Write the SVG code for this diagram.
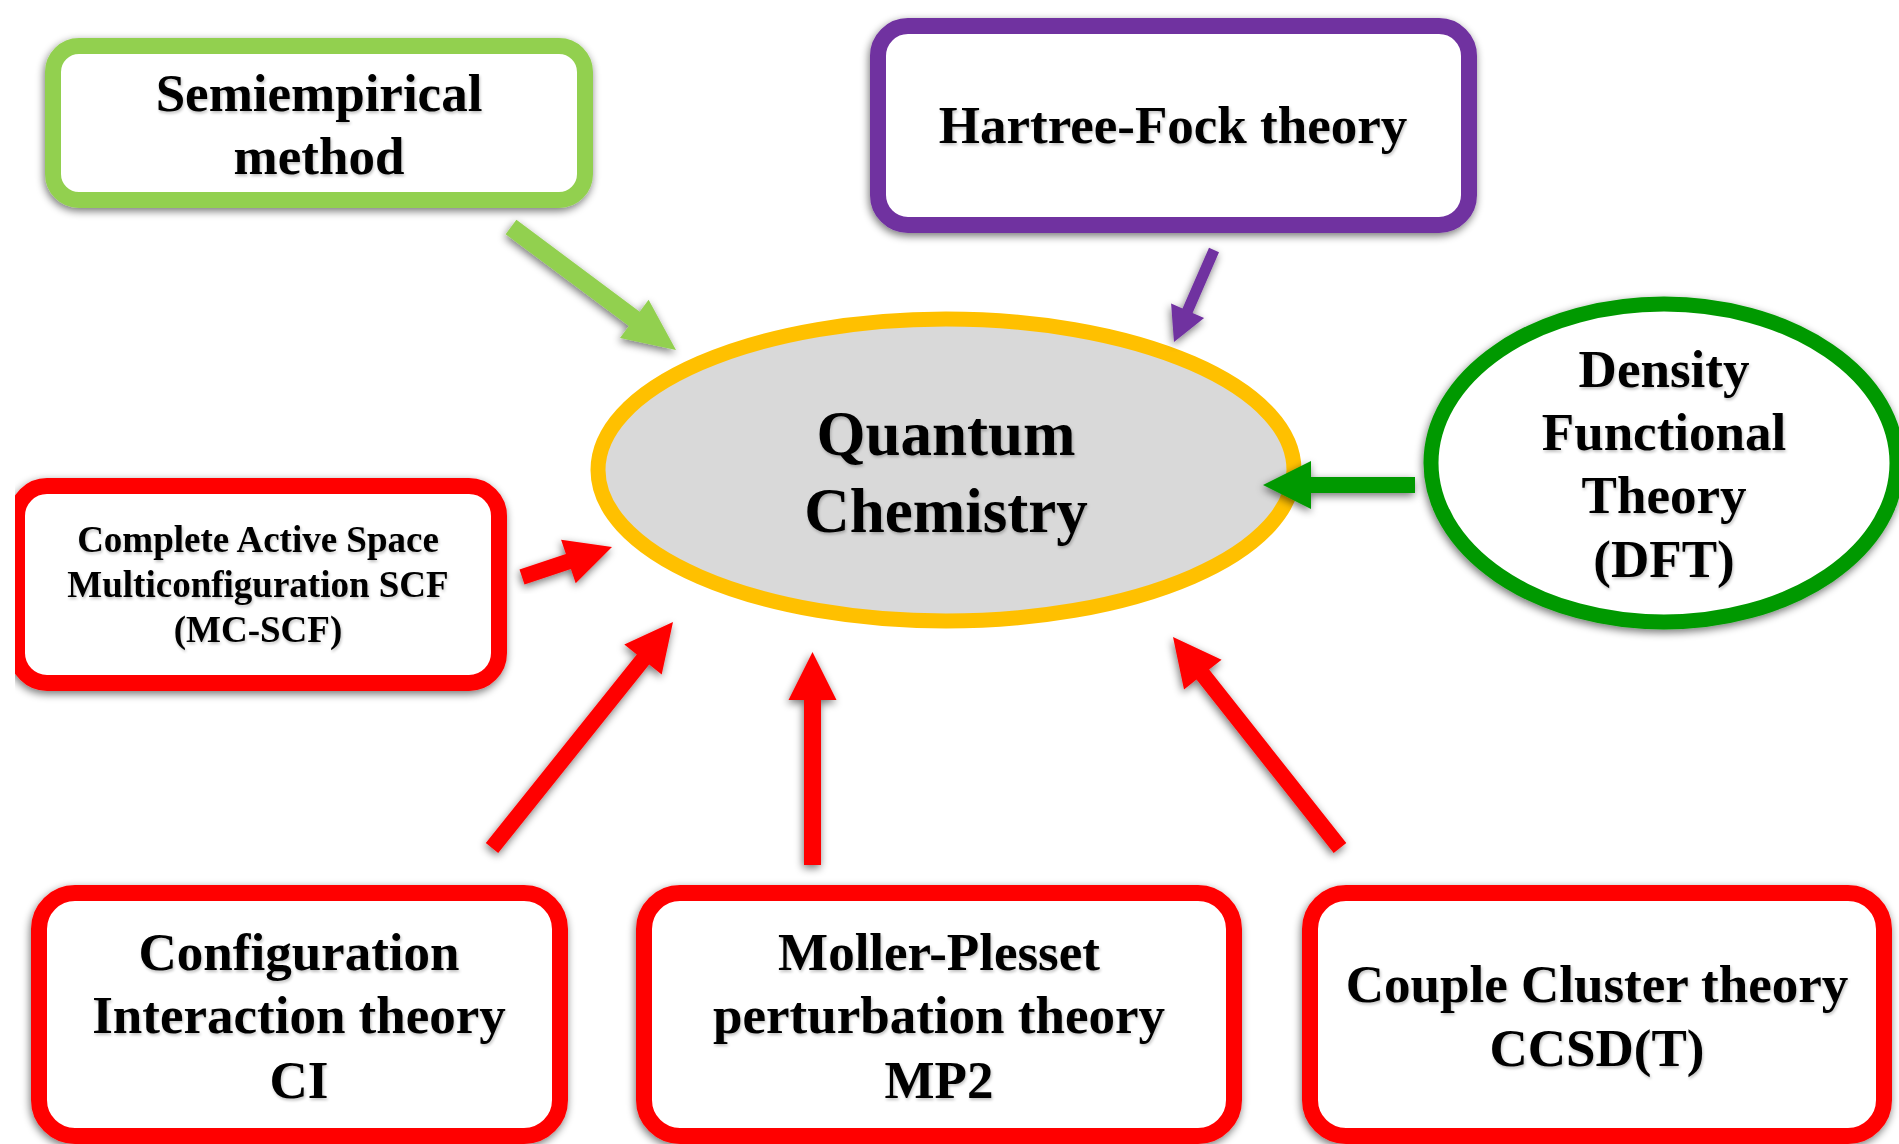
<svg xmlns="http://www.w3.org/2000/svg" width="1899" height="1144" viewBox="0 0 1899 1144">
  <defs>
    <filter id="sh" x="-20%" y="-20%" width="140%" height="140%">
      <feGaussianBlur in="SourceAlpha" stdDeviation="4"/>
      <feOffset dx="-1" dy="3" result="b"/>
      <feComponentTransfer in="b" result="c"><feFuncA type="linear" slope="0.55"/></feComponentTransfer>
      <feMerge><feMergeNode in="c"/><feMergeNode in="SourceGraphic"/></feMerge>
    </filter>
    <filter id="tsh" x="-10%" y="-20%" width="120%" height="140%">
      <feGaussianBlur in="SourceAlpha" stdDeviation="1.8"/>
      <feOffset dx="1" dy="2" result="b"/>
      <feComponentTransfer in="b" result="c"><feFuncA type="linear" slope="0.25"/></feComponentTransfer>
      <feMerge><feMergeNode in="c"/><feMergeNode in="SourceGraphic"/></feMerge>
    </filter>
    <clipPath id="clipL"><rect x="15" y="0" width="1884" height="1144"/></clipPath>
  </defs>
  <style>
    .t { font-family: "Liberation Serif", "Times New Roman", serif; font-weight: bold; fill: #000; text-anchor: middle; }
    .t53 { font-size: 53px; }
    .t37 { font-size: 37px; }
    .t63 { font-size: 63px; }
    .box { fill: #fff; stroke-width: 16; }
    .red { stroke: #FF0000; }
  </style>
  <rect x="0" y="0" width="1899" height="1144" fill="#fff"/>

  <g id="quantum-chemistry">
    <ellipse cx="946" cy="470" rx="348" ry="151" fill="#D9D9D9" stroke="#FFC000" stroke-width="15"/>
    <g filter="url(#tsh)">
      <text class="t t63" x="946" y="455">Quantum</text>
      <text class="t t63" x="946" y="532">Chemistry</text>
    </g>
  </g>

  <g id="semiempirical">
    <rect class="box" x="53" y="46" width="532" height="154" rx="26" stroke="#92D050" filter="url(#sh)"/>
    <g filter="url(#tsh)">
      <text class="t t53" x="319" y="111">Semiempirical</text>
      <text class="t t53" x="319" y="174">method</text>
    </g>
  </g>

  <g id="hartree-fock">
    <rect class="box" x="878" y="26" width="591" height="199" rx="30" stroke="#7030A0" filter="url(#sh)"/>
    <g filter="url(#tsh)">
      <text class="t t53" x="1173" y="143">Hartree-Fock theory</text>
    </g>
  </g>

  <g id="dft">
    <ellipse cx="1664" cy="463" rx="233" ry="159" fill="#fff" stroke="#009900" stroke-width="15" filter="url(#sh)"/>
    <g filter="url(#tsh)">
      <text class="t t53" x="1664" y="387">Density</text>
      <text class="t t53" x="1664" y="450">Functional</text>
      <text class="t t53" x="1664" y="513">Theory</text>
      <text class="t t53" x="1664" y="577">(DFT)</text>
    </g>
  </g>

  <g id="mc-scf" clip-path="url(#clipL)">
    <rect class="box red" x="17" y="486" width="482" height="197" rx="30" stroke-width="15" filter="url(#sh)"/>
    <g filter="url(#tsh)">
      <text class="t t37" x="258" y="552">Complete Active Space</text>
      <text class="t t37" x="258" y="597">Multiconfiguration SCF</text>
      <text class="t t37" x="258" y="642">(MC-SCF)</text>
    </g>
  </g>

  <g id="ci">
    <rect class="box red" x="39" y="893" width="521" height="243" rx="36" filter="url(#sh)"/>
    <g filter="url(#tsh)">
      <text class="t t53" x="299" y="970">Configuration</text>
      <text class="t t53" x="299" y="1033">Interaction theory</text>
      <text class="t t53" x="299" y="1098">CI</text>
    </g>
  </g>

  <g id="mp2">
    <rect class="box red" x="644" y="893" width="590" height="243" rx="36" filter="url(#sh)"/>
    <g filter="url(#tsh)">
      <text class="t t53" x="939" y="970">Moller-Plesset</text>
      <text class="t t53" x="939" y="1033">perturbation theory</text>
      <text class="t t53" x="939" y="1098">MP2</text>
    </g>
  </g>

  <g id="ccsdt">
    <rect class="box red" x="1310" y="893" width="574" height="243" rx="36" filter="url(#sh)"/>
    <g filter="url(#tsh)">
      <text class="t t53" x="1597" y="1002">Couple Cluster theory</text>
      <text class="t t53" x="1597" y="1066">CCSD(T)</text>
    </g>
  </g>

  <g id="connectors">
    <polygon filter="url(#sh)" fill="#92D050" points="505.6,234.2 628.9,326.1 620.0,338.1 676,350 648.6,299.7 639.7,311.7 516.4,219.8"/>
    <polygon filter="url(#sh)" fill="#7030A0" points="1209.0,247.8 1182.5,308.6 1171.1,303.6 1174,342 1204.1,318.0 1192.6,313.0 1219.0,252.2"/>
    <polygon filter="url(#sh)" fill="#009900" points="1415,477 1311,477 1311,461 1263,485 1311,509 1311,493 1415,493"/>
    <polygon filter="url(#sh)" fill="#FF0000" points="524.5,584.6 570.9,569.1 575.7,583.3 612,547 561.1,539.7 565.9,553.9 519.5,569.4"/>
    <polygon filter="url(#sh)" fill="#FF0000" points="498.2,853.0 649.2,664.5 661.7,674.5 673,622 624.3,644.5 636.8,654.5 485.8,843.0"/>
    <polygon filter="url(#sh)" fill="#FF0000" points="804,865 804,700 788.5,700 812.5,652 836.5,700 821,700 821,865"/>
    <polygon filter="url(#sh)" fill="#FF0000" points="1346.3,843.0 1209.1,669.6 1221.6,659.7 1173,637 1184.0,689.5 1196.5,679.6 1333.7,853.0"/>
  </g>
</svg>
